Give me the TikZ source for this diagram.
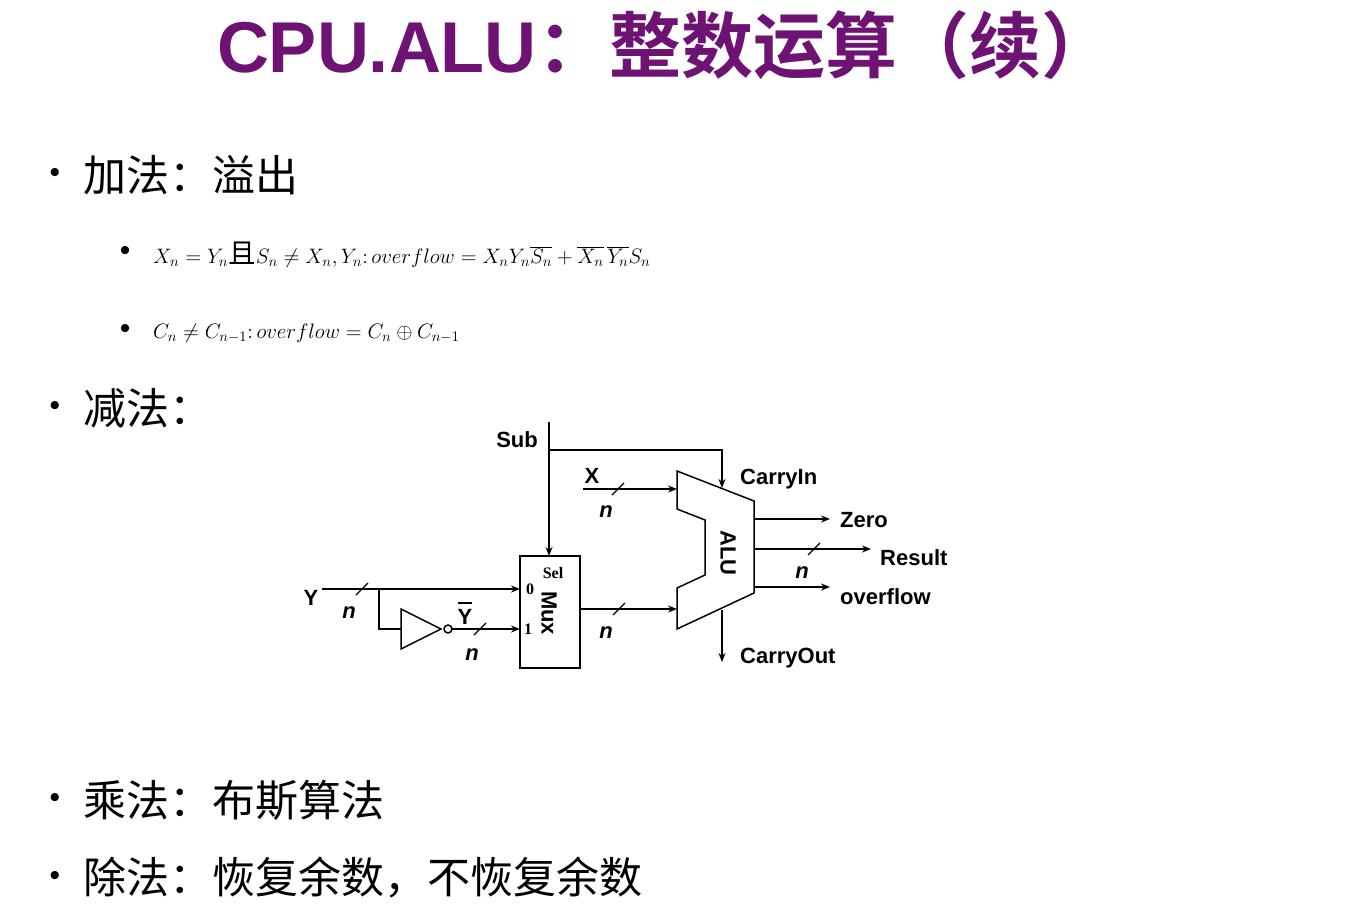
\documentclass[tikz,border=0pt]{standalone}
\usepackage{fontspec}
\usepackage{graphicx}
\setmainfont{Liberation Sans}
\newfontfamily\cjk{Noto Sans CJK SC}
\newfontfamily\cjkb{Noto Sans CJK SC Black}
\newfontfamily\tms{Liberation Serif}
\usetikzlibrary{arrows.meta}
\definecolor{tpurple}{HTML}{6E1273}
\tikzset{
  wire/.style={line width=1.5pt},
  arr/.style={wire,-{Stealth[length=9pt,width=7pt]}},
  slash/.style={line width=1.2pt},
  lab/.style={font=\fontsize{22}{24}\selectfont\bfseries, inner sep=0pt},
  nlab/.style={font=\fontsize{22}{24}\selectfont\bfseries\itshape, inner sep=0pt},
  small/.style={font=\tms\fontsize{16}{18}\selectfont\bfseries, inner sep=0pt},
  body/.style={font=\cjk\fontsize{43}{45}\selectfont, anchor=west, inner sep=0pt},
  mth/.style={anchor=west, inner sep=0pt},
  bul/.style={font=\fontsize{30}{32}\selectfont, inner sep=0pt}
}
\begin{document}
\begin{tikzpicture}[x=1pt,y=-1pt]
\useasboundingbox (0,0) rectangle (1351,916);
% title
\node[text=tpurple, inner sep=0pt] (title) at (665,45) {\fontsize{72}{74}\selectfont\bfseries CPU.ALU\cjkb：整数运算（续）};
% bullets
\node[bul] (b1) at (55,175) {•};
\node[body] (t1) at (83,175) {加法：溢出};
\node[bul] (b2) at (125,253) {•};
\node[mth] (t2) at (153,255) {\scalebox{1.45}{\Large$X_n=Y_n$\mbox{\cjk\fontsize{19}{21}\selectfont 且}$S_n\neq X_n,Y_n\colon overflow=X_nY_n\overline{S_n}+\overline{X_n}\,\overline{Y_n}S_n$}};
\node[bul] (b3) at (125,331) {•};
\node[mth] (t3) at (153,333) {\scalebox{1.45}{\Large$C_n\neq C_{n-1}\colon overflow=C_n\oplus C_{n-1}$}};
\node[bul] (b4) at (55,408) {•};
\node[body] (t4) at (83,408) {减法：};
\node[bul] (b5) at (55,800) {•};
\node[body] (t5) at (83,800) {乘法：布斯算法};
\node[bul] (b6) at (55,878) {•};
\node[body] (t6) at (83,878) {除法：恢复余数，不恢复余数};
% circuit
\draw[wire] (520,556) rectangle (580,668);
\node[small] (sel) at (553,573) {Sel};
\node[small] (zero0) at (530,589) {0};
\node[small] (one1) at (528,629) {1};
\node[lab, rotate=-90] (muxl) at (549,613) {Mux};
\draw[wire] (677,471) -- (754,501) -- (754,593) -- (677,629) -- (677,588) -- (705,575) -- (705,520) -- (677,509) -- cycle;
\node[lab, rotate=-90] (alul) at (728,553) {ALU};
% Sub
\coordinate (subtop) at (549,422);
\coordinate (subj) at (549,450);
\node[lab, anchor=east] (sub) at (538,440) {Sub};
\draw[arr] (subtop) -- (549,556);
\draw[arr] (subj) -- (722,450) -- (722,488);
\node[lab, anchor=west] (cin) at (740,479) {CarryIn};
% X
\node[lab] (x) at (592,476) {X};
\draw[arr] (583,489) -- (677,489);
\draw[slash] (612,495) -- (624,483);
\node[nlab] (nx) at (606,512) {n};
% Y
\node[lab] (y) at (311,598) {Y};
\draw[arr] (322,589) -- (520,589);
\draw[slash] (356,595) -- (368,583);
\node[nlab] (ny) at (349,613) {n};
\draw[wire] (379,589) -- (379,629) -- (401,629);
\draw[wire] (401,609) -- (401,649) -- (441,629) -- cycle;
\draw[wire] (448,629) circle (4);
\draw[arr] (452,629) -- (520,629);
\draw[slash] (474,635) -- (486,623);
\node[lab] (ybar) at (465,617) {Y};
\coordinate (ob1) at (458,603);
\coordinate (ob2) at (472,603);
\draw[line width=2.2pt] (ob1) -- (ob2);
\node[nlab] (nyb) at (472,655) {n};
% mux out
\draw[arr] (580,609) -- (677,609);
\draw[slash] (613,615) -- (625,603);
\node[nlab] (nm) at (606,633) {n};
% outputs
\draw[arr] (754,519) -- (830,519);
\node[lab, anchor=west] (zero) at (840,520) {Zero};
\draw[arr] (754,549) -- (871,549);
\draw[slash] (808,555) -- (820,543);
\node[nlab] (nr) at (802,573) {n};
\node[lab, anchor=west] (res) at (880,558) {Result};
\draw[arr] (754,587) -- (830,587);
\node[lab, anchor=west] (ovf) at (840,597) {overflow};
\draw[arr] (722,610) -- (722,662);
\node[lab, anchor=west] (cout) at (740,658) {CarryOut};
\end{tikzpicture}
\end{document}
